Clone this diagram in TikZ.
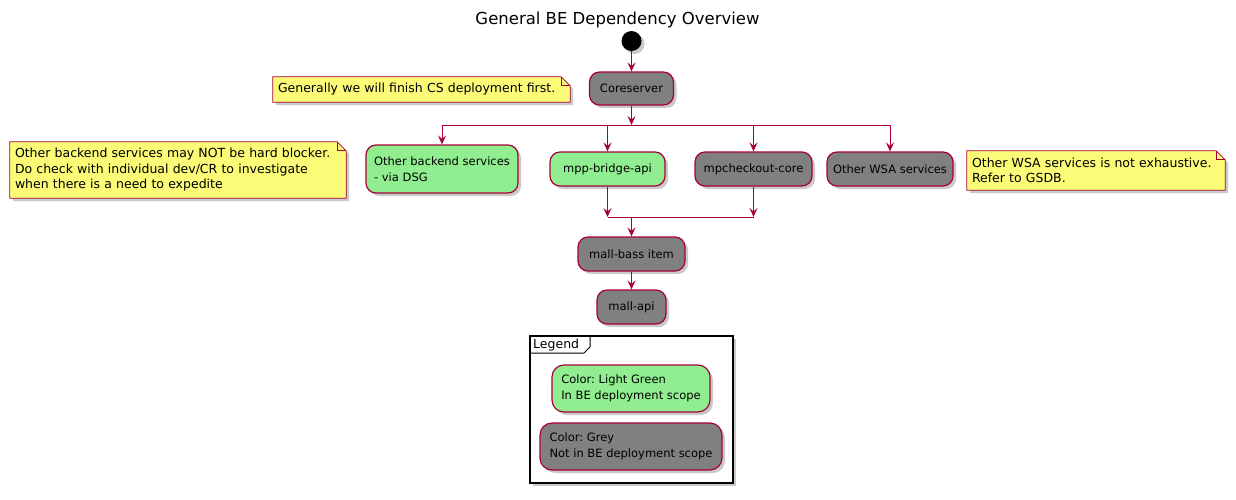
\documentclass[tikz,border=0pt]{standalone}
\usepackage{fontspec}
\setmainfont{DejaVu Sans}
\usetikzlibrary{arrows.meta,shadows,calc}
\definecolor{plred}{HTML}{A80036}
\definecolor{plgreen}{HTML}{90EE90}
\definecolor{plgrey}{HTML}{808080}
\definecolor{plnote}{HTML}{FBFB77}
\tikzset{
  shad/.style={drop shadow={shadow xshift=3pt,shadow yshift=-3pt,opacity=0.35,fill=black!60}},
  act/.style={draw=plred,line width=1.2pt,rounded corners=10pt,shad,font=\fontsize{11.5}{15.5}\selectfont\frenchspacing,align=left,inner xsep=6pt},
  gact/.style={act,fill=plgrey},
  lact/.style={act,fill=plgreen},
  notetext/.style={font=\fontsize{12.5}{15.5}\selectfont\frenchspacing,align=left,text width=#1,inner xsep=5pt,anchor=center},
  flow/.style={draw=plred,line width=0.9pt},
  arr/.style={flow,-{Stealth[length=9pt,width=8pt,inset=3.5pt]}},
}
\newcommand\drawnote[1]{%
  \path[shad,fill=plnote,draw=plred,line width=0.8pt]
    (#1.north west) -- ([xshift=-9pt]#1.north east) -- ([yshift=-9pt]#1.north east)
    -- (#1.south east) -- (#1.south west) -- cycle;
  \draw[plred,line width=0.8pt] ([xshift=-9pt]#1.north east) |- ([yshift=-9pt]#1.north east);
}
\begin{document}
\begin{tikzpicture}[x=1pt,y=-1pt]
\useasboundingbox (0,0) rectangle (1236,499);
% title
\node[font=\fontsize{16.5}{20}\selectfont] (title) at (617.5,20) {General BE Dependency Overview};
% start
\node[circle,fill=black,minimum size=20pt,inner sep=0pt,shad] (start) at (631.5,41) {};
% activities
\node[gact,minimum width=84pt,minimum height=33pt,align=center] (cs) at (631.5,88.5) {Coreserver};
\node[lact,minimum width=152pt,minimum height=48pt] (obs) at (442,169) {Other backend services\\- via DSG};
\node[lact,minimum width=115pt,minimum height=34pt,align=center] (mpp) at (607.5,169) {mpp-bridge-api};
\node[gact,minimum width=117pt,minimum height=34pt,align=center] (mpc) at (753.5,169) {mpcheckout-core};
\node[gact,minimum width=126pt,minimum height=34pt,align=center] (wsa) at (890,169) {Other WSA services};
\node[gact,minimum width=107pt,minimum height=34pt,align=center] (mb) at (631.5,254) {mall-bass item};
\node[gact,minimum width=69pt,minimum height=34pt,align=center] (ma) at (631.5,307) {mall-api};
% notes
\node[minimum width=297pt,minimum height=25pt,inner sep=0pt] (n1) at (421.5,89.5) {};
\drawnote{n1}
\node[notetext=287pt] at (n1) {Generally we will finish CS deployment first.};
\node[minimum width=336pt,minimum height=56pt,inner sep=0pt] (n2) at (178,170) {};
\drawnote{n2}
\node[notetext=326pt] at (n2) {Other backend services may NOT be hard blocker.\\Do check with individual dev/CR to investigate\\when there is a need to expedite};
\node[minimum width=258pt,minimum height=39pt,inner sep=0pt] (n3) at (1096,170.5) {};
\drawnote{n3}
\node[notetext=248pt] at (n3) {Other WSA services is not exhaustive.\\Refer to GSDB.};
% flows
\draw[arr] (start) -- (cs);
\coordinate (b1) at (631.5,125);
\coordinate (b1l) at (442,125);
\coordinate (b1r) at (890,125);
\draw[arr] (cs.south) -- (b1);
\draw[flow] (b1l) -- (b1r);
\draw[arr] (b1l) -- (obs.north);
\draw[arr] (mpp |- b1) -- (mpp.north);
\draw[arr] (mpc |- b1) -- (mpc.north);
\draw[arr] (wsa |- b1) -- (wsa.north);
\coordinate (b2) at (631.5,217);
\draw[arr] (mpp.south) -- (mpp |- b2);
\draw[arr] (mpc.south) -- (mpc |- b2);
\draw[flow] (mpp |- b2) -- (mpc |- b2);
\draw[arr] (b2) -- (mb.north);
\draw[arr] (mb.south) -- (ma.north);
% legend
\path[shad,fill=white,draw=black,line width=1.4pt] (530,336) rectangle (733,483);
\draw[black,line width=1pt] (590,336) -- (590,347) -- (584,353) -- (530,353);
\node[font=\fontsize{12.5}{14}\selectfont,anchor=west,inner xsep=3pt] (lgt) at (530,345) {Legend};
\node[lact,minimum width=158pt,minimum height=47pt,rounded corners=12pt] (lg1) at (631,388.5) {Color: Light Green\\In BE deployment scope};
\node[gact,minimum width=182pt,minimum height=47pt,rounded corners=12pt] (lg2) at (631,446.5) {Color: Grey\\Not in BE deployment scope};
\end{tikzpicture}
\end{document}
